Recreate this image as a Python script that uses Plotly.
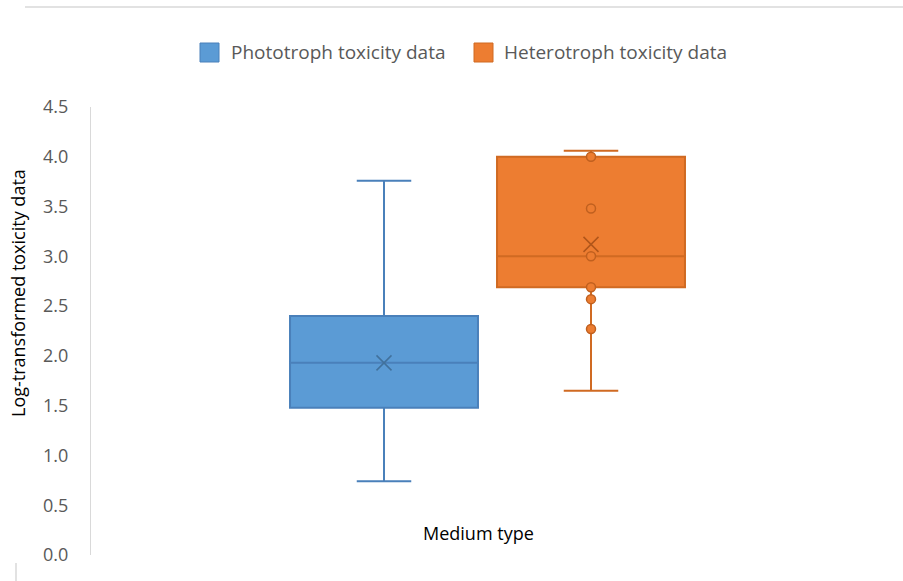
import plotly.graph_objects as go

# ---- data ----
categories = ["Phototroph", "Heterotroph"]
series_names = ["Phototroph toxicity data", "Heterotroph toxicity data"]
lower_fence = [0.74, 1.65]
q1_vals = [1.48, 2.69]
median_vals = [1.93, 3.00]
q3_vals = [2.40, 4.00]
upper_fence = [3.76, 4.06]
mean_vals = [1.93, 3.12]
hetero_inner_points = [4.00, 3.48, 3.00, 2.69, 2.57, 2.27]
y_ticks = [0.0, 0.5, 1.0, 1.5, 2.0, 2.5, 3.0, 3.5, 4.0, 4.5]

fill_colors = ["#5B9BD5", "#ED7D31"]
line_colors = ["#4A80BA", "#D06A22"]
mean_colors = ["#41719C", "#B0561A"]

FONT = "'Open Sans', Lato, sans-serif"

fig = go.Figure()
for i in range(2):
    fig.add_trace(go.Box(
        x=[categories[i]],
        q1=[q1_vals[i]], median=[median_vals[i]], q3=[q3_vals[i]],
        lowerfence=[lower_fence[i]], upperfence=[upper_fence[i]],
        name=series_names[i],
        fillcolor=fill_colors[i],
        line=dict(color=line_colors[i], width=2),
        width=0.908,
        whiskerwidth=0.29,
        boxpoints=False,
        hoverinfo="skip",
        showlegend=False,
    ))

# inner points for heterotroph
fig.add_trace(go.Scatter(
    x=[categories[1]] * len(hetero_inner_points), y=hetero_inner_points,
    mode="markers", showlegend=False,
    marker=dict(symbol="circle", size=9, color="#ED7D31",
                line=dict(color="#C0601F", width=1.5)),
))
# mean markers
for i in range(2):
    fig.add_trace(go.Scatter(
        x=[categories[i]], y=[mean_vals[i]], mode="markers", showlegend=False,
        marker=dict(symbol="x-thin-open", size=15, color=mean_colors[i],
                    line=dict(color=mean_colors[i], width=1.5)),
    ))

px_left, px_right, px_top, px_bottom = 91, 865, 107, 555
W, H = 903, 581
plot_w = px_right - px_left
plot_h = px_bottom - px_top

def px_x(p):
    return (p - px_left) / plot_w

def px_y(p):
    return (px_bottom - p) / plot_h

# custom legend (square swatches + text)
legend_items = [(200, 229), (474, 502)]
shapes = [
    dict(type="line", xref="paper", yref="paper", x0=px_x(25), x1=px_x(903),
         y0=px_y(7), y1=px_y(7), line=dict(color="#D9D9D9", width=1.5)),
    dict(type="line", xref="paper", yref="paper", x0=px_x(16), x1=px_x(16),
         y0=px_y(563), y1=px_y(581), line=dict(color="#D9D9D9", width=1.5)),
]
annotations = [
    dict(text="Medium type", xref="paper", yref="paper", x=px_x(478), y=px_y(533),
         xanchor="center", yanchor="middle", showarrow=False,
         font=dict(size=18, color="#000000")),
    dict(text="Log-transformed toxicity data", xref="paper", yref="paper",
         x=px_x(18), y=px_y(293), xanchor="center", yanchor="middle",
         textangle=-90, showarrow=False, font=dict(size=18, color="#000000")),
]
for i, (sx, tx) in enumerate(legend_items):
    shapes.append(dict(type="rect", xref="paper", yref="paper",
                       x0=px_x(sx), x1=px_x(sx + 19), y0=px_y(62), y1=px_y(43),
                       fillcolor=fill_colors[i], line=dict(color=line_colors[i], width=1)))
    annotations.append(dict(text=series_names[i], xref="paper", yref="paper",
                            x=px_x(tx), y=px_y(52), xanchor="left", yanchor="middle",
                            showarrow=False, font=dict(size=19, color="#595959")))

fig.update_layout(
    width=W, height=H,
    margin=dict(l=px_left, r=W - px_right, t=px_top, b=H - px_bottom),
    plot_bgcolor="white", paper_bgcolor="white",
    boxmode="overlay",
    font=dict(family=FONT, color="#595959", size=18),
    showlegend=False,
    xaxis=dict(type="category", categoryorder="array", categoryarray=categories,
               range=[(px_left - 384) / 207, (px_right - 384) / 207],
               showticklabels=False, showline=False, showgrid=False, zeroline=False,
               fixedrange=True),
    yaxis=dict(range=[0, 4.5], tickvals=y_ticks, tickformat=".1f",
               showline=True, linecolor="#D9D9D9", linewidth=1,
               showgrid=False, zeroline=False,
               ticks="outside", ticklen=18, tickcolor="rgba(0,0,0,0)",
               tickfont=dict(size=18, color="#595959")),
    annotations=annotations,
    shapes=shapes,
)

fig.write_html("out.html", config={"displayModeBar": False},
               post_script="document.body.style.margin='0px';")
